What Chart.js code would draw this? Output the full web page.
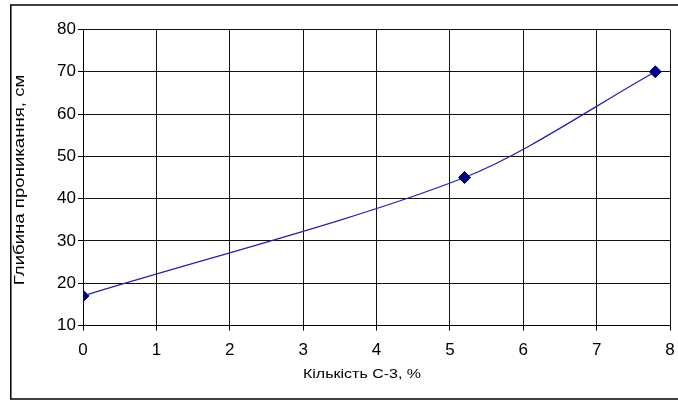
<!DOCTYPE html>
<html>
<head>
<meta charset="utf-8">
<script src="https://cdn.jsdelivr.net/npm/chart.js@4"></script>
<style>
html,body{margin:0;padding:0;background:#fff;}
#wrap{width:678px;height:401px;position:relative;}
</style>
</head>
<body>
<div id="wrap"><canvas id="c" width="678" height="401"></canvas></div>
<script>
const xValues = [0, 5.2, 7.8];
const yValues = [17, 45, 70];
const xTitle = 'Кількість С-3, %';
const yTitle = 'Глибина проникання, см';

const points = xValues.map((x, i) => ({x: x, y: yValues[i]}));

function stretchedText(ctx, text, x, y, rot, sx) {
  ctx.save();
  ctx.translate(x, y);
  ctx.rotate(rot);
  ctx.scale(sx, 1);
  ctx.fillText(text, 0, 0);
  ctx.restore();
}

const frame = {
  id: 'frame',
  beforeDraw(chart) {
    const ctx = chart.ctx;
    ctx.save();
    ctx.fillStyle = '#fff';
    ctx.fillRect(0, 0, chart.width, chart.height);
    ctx.strokeStyle = '#000';
    ctx.lineWidth = 1.5;
    ctx.strokeRect(10.8, 5, 680, 394);
    ctx.restore();
  },
  afterDraw(chart) {
    const ctx = chart.ctx;
    ctx.save();
    ctx.fillStyle = '#000';
    ctx.textAlign = 'center';
    ctx.textBaseline = 'middle';
    ctx.font = '12.5px "Liberation Sans", Arial, sans-serif';
    stretchedText(ctx, xTitle, 362, 375, 0, 1.28);
    ctx.font = '15px "Liberation Sans", Arial, sans-serif';
    stretchedText(ctx, yTitle, 20, 180, -Math.PI / 2, 1.24);
    ctx.restore();
  }
};

new Chart(document.getElementById('c'), {
  type: 'scatter',
  data: {
    datasets: [{
      data: points,
      showLine: true,
      tension: 0.3,
      borderColor: '#2424a8',
      borderWidth: 1.3,
      pointStyle: 'rectRot',
      pointRadius: 6,
      pointBackgroundColor: '#000080',
      pointBorderColor: '#000080',
      pointBorderWidth: 1
    }]
  },
  options: {
    responsive: false,
    animation: false,
    devicePixelRatio: 1,
    layout: { padding: { left: 0, right: 8, top: 29.5, bottom: 0 } },
    plugins: { legend: { display: false }, tooltip: { enabled: false } },
    scales: {
      x: {
        type: 'linear',
        min: 0, max: 8,
        ticks: { stepSize: 1, color: '#000', font: { family: '"Liberation Sans", Arial, sans-serif', size: 17 }, padding: 10, maxRotation: 0 },
        grid: { color: '#111', lineWidth: 1, tickLength: 5, tickColor: '#000' },
        border: { color: '#000', width: 1 },
        afterFit(s) { s.height = 75.5; s.paddingLeft = 0; s.paddingRight = 0; }
      },
      y: {
        min: 10, max: 80,
        ticks: { stepSize: 10, color: '#000', font: { family: '"Liberation Sans", Arial, sans-serif', size: 17 }, padding: 2 },
        grid: { color: '#111', lineWidth: 1, tickLength: 5, tickColor: '#000' },
        border: { color: '#000', width: 1 },
        afterFit(s) { s.width = 83; s.paddingTop = 0; s.paddingBottom = 0; }
      }
    }
  },
  plugins: [frame]
});
</script>
</body>
</html>
